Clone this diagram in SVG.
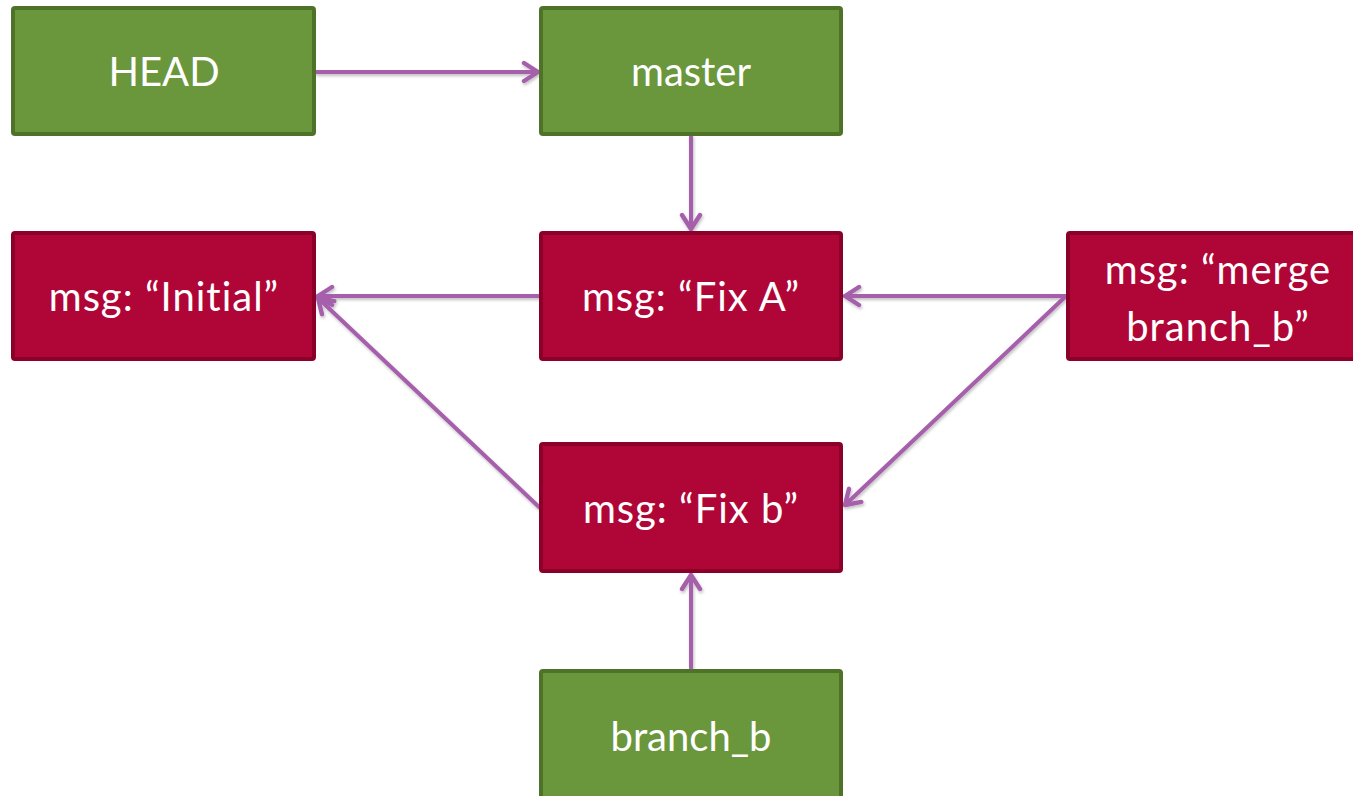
<svg xmlns="http://www.w3.org/2000/svg" width="1353" height="796" viewBox="0 0 1353 796">
<defs>
<style>
.g{fill:#6A963C;stroke:#4E7328;stroke-width:4}
.r{fill:#B00637;stroke:#8A0029;stroke-width:4}
.t{font-family:Lato,"Open Sans",sans-serif;font-size:40px;fill:#fff;text-anchor:middle;font-variant-ligatures:none;font-feature-settings:"liga" 0}
.m{letter-spacing:1px}
.c{stroke:#A55FAB;stroke-width:4;fill:none;stroke-linecap:round;marker-end:url(#a)}
</style>
<marker id="a" viewBox="0 0 12 12" refX="10" refY="6" markerWidth="6" markerHeight="6" markerUnits="strokeWidth" orient="auto">
<path d="M3,1.5 L10,6 L3,10.5" fill="none" stroke="#A55FAB" stroke-width="2.2" stroke-linecap="round" stroke-linejoin="round"/>
</marker>
<filter id="s" x="-10%" y="-10%" width="120%" height="120%">
<feDropShadow dx="1" dy="2" stdDeviation="1.5" flood-color="#000" flood-opacity="0.25"/>
</filter>
</defs>
<g id="connectors" filter="url(#s)">
<line class="c" x1="316" y1="72" x2="538" y2="72"/>
<line class="c" x1="691" y1="136" x2="691" y2="229"/>
<line class="c" x1="539" y1="296" x2="318" y2="296"/>
<line class="c" x1="1066" y1="296" x2="845" y2="296"/>
<line class="c" x1="1066" y1="296" x2="845" y2="505"/>
<line class="c" x1="539" y1="507" x2="318" y2="298"/>
<line class="c" x1="691" y1="668" x2="691" y2="575"/>
</g>
<g id="head"><rect class="g" x="13" y="8" width="301" height="126" rx="2"/><text class="t" x="164" y="86">HEAD</text></g>
<g id="master"><rect class="g" x="541" y="8" width="300" height="126" rx="2"/><text class="t" x="691" y="86">master</text></g>
<g id="initial"><rect class="r" x="13" y="233" width="301" height="126" rx="2"/><text class="t m" x="164" y="311">msg: “Initial”</text></g>
<g id="fixa"><rect class="r" x="541" y="233" width="300" height="126" rx="2"/><text class="t m" x="691" y="311">msg: “Fix A”</text></g>
<g id="merge"><rect class="r" x="1068" y="233" width="300" height="126" rx="2"/><text class="t m" x="1218" y="284">msg: “merge</text><text class="t m" x="1218" y="341">branch_b”</text></g>
<g id="fixb"><rect class="r" x="541" y="444" width="300" height="127" rx="2"/><text class="t m" x="691" y="523">msg: “Fix b”</text></g>
<g id="branch_b"><rect class="g" x="541" y="671" width="300" height="140" rx="2"/><text class="t" x="691" y="751">branch_b</text></g>
</svg>
